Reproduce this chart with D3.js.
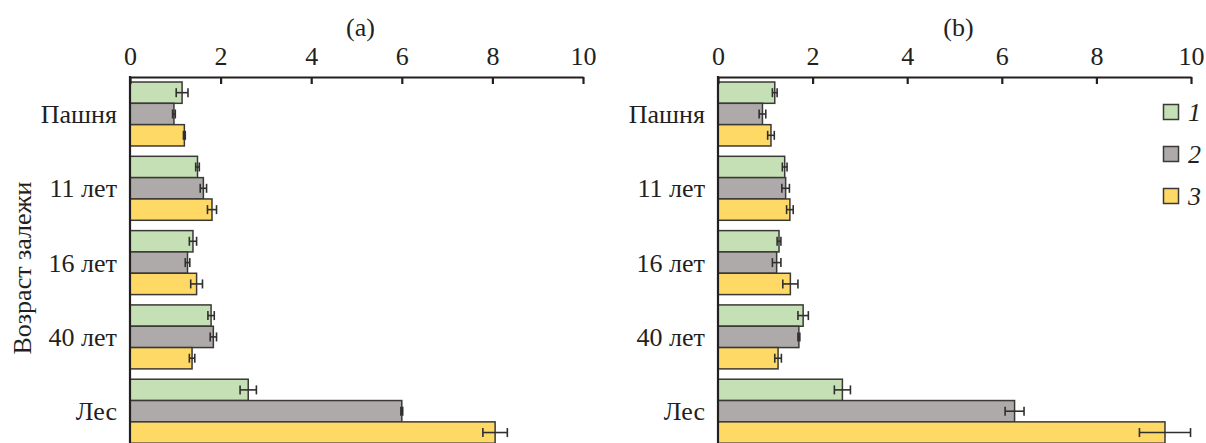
<!DOCTYPE html>
<html>
<head>
<meta charset="utf-8">
<script src="https://cdn.jsdelivr.net/npm/d3@7"></script>
<style>
  html, body { margin: 0; padding: 0; background: #fff; }
  svg { display: block; }
  text { font-family: "Liberation Serif", "DejaVu Serif", serif; fill: #231f20; }
</style>
</head>
<body>
<svg id="chart" width="1206" height="443"></svg>
<script>
// Age categories of the fallow plots (top to bottom)
const categories = ["Пашня", "11 лет", "16 лет", "40 лет", "Лес"];
const seriesLabels = ["1", "2", "3"];
const seriesColors = ["#c5e0b4", "#aeaaaa", "#ffd966"];
const xTicks = [0, 2, 4, 6, 8, 10];

// Panel (a): means per series, one array per series, ordered by category
const a1 = [1.15, 1.49, 1.39, 1.79, 2.61];
const a2 = [0.97, 1.62, 1.27, 1.84, 6.00];
const a3 = [1.20, 1.81, 1.47, 1.37, 8.06];
const a1Err = [0.13, 0.04, 0.08, 0.07, 0.18];
const a2Err = [0.03, 0.07, 0.05, 0.07, 0.02];
const a3Err = [0.02, 0.10, 0.13, 0.06, 0.27];

// Panel (b)
const b1 = [1.20, 1.41, 1.29, 1.80, 2.63];
const b2 = [0.94, 1.43, 1.24, 1.71, 6.27];
const b3 = [1.12, 1.52, 1.53, 1.27, 9.45];
const b1Err = [0.05, 0.05, 0.04, 0.11, 0.17];
const b2Err = [0.07, 0.08, 0.09, 0.02, 0.20];
const b3Err = [0.07, 0.07, 0.16, 0.07, 0.54];

const svg = d3.select("#chart");
const ink = "#231f20";
const barStroke = "#3b3838";

const axisY = 77;
const y = d3.scaleBand().domain(categories).range([82, 443.2]).paddingInner(0.139).paddingOuter(0);
const ySeries = d3.scaleBand().domain(d3.range(3)).range([0, y.bandwidth()]);

function drawPanel(opts) {
  const { x0, x1, title, series, errors, showYTitle } = opts;
  const x = d3.scaleLinear().domain([0, 10]).range([x0, x1]);
  const g = svg.append("g");

  // bars
  series.forEach((vals, s) => {
    g.append("g").selectAll("rect")
      .data(vals)
      .join("rect")
      .attr("x", x(0))
      .attr("y", (d, i) => y(categories[i]) + ySeries(s))
      .attr("width", d => x(d) - x(0))
      .attr("height", ySeries.bandwidth())
      .attr("fill", seriesColors[s])
      .attr("stroke", barStroke)
      .attr("stroke-width", 1.5);
  });

  // error bars
  series.forEach((vals, s) => {
    const eg = g.append("g").attr("stroke", "#2f2f2f").attr("stroke-width", 1.6);
    vals.forEach((v, i) => {
      const cy = y(categories[i]) + ySeries(s) + ySeries.bandwidth() / 2;
      const lo = x(v - errors[s][i]), hi = x(v + errors[s][i]);
      eg.append("line").attr("x1", lo).attr("x2", hi).attr("y1", cy).attr("y2", cy);
      eg.append("line").attr("x1", lo).attr("x2", lo).attr("y1", cy - 4.5).attr("y2", cy + 4.5);
      eg.append("line").attr("x1", hi).attr("x2", hi).attr("y1", cy - 4.5).attr("y2", cy + 4.5);
    });
  });

  // top axis with inward ticks
  const axis = d3.axisTop(x).tickValues(xTicks).tickSizeInner(-7).tickSizeOuter(0).tickPadding(12);
  const ag = g.append("g").attr("transform", `translate(0,${axisY})`).call(axis);
  ag.select(".domain").attr("stroke", ink).attr("stroke-width", 2.2);
  ag.selectAll(".tick line").attr("stroke", ink).attr("stroke-width", 2.2);
  ag.selectAll(".tick text")
    .attr("font-family", "Liberation Serif, serif")
    .attr("font-size", 26)
    .attr("fill", ink);

  // left axis line
  g.append("line")
    .attr("x1", x0).attr("x2", x0)
    .attr("y1", axisY - 1).attr("y2", 443)
    .attr("stroke", ink).attr("stroke-width", 2.2);

  // category labels
  g.append("g").selectAll("text")
    .data(categories)
    .join("text")
    .attr("x", x0 - 13)
    .attr("y", d => y(d) + y.bandwidth() / 2)
    .attr("dy", "0.35em")
    .attr("text-anchor", "end")
    .attr("font-size", 26)
    .text(d => d);

  // panel title
  g.append("text")
    .attr("x", (x0 + x1) / 2 + 4)
    .attr("y", 36)
    .attr("text-anchor", "middle")
    .attr("font-size", 26)
    .text(title);

  if (showYTitle) {
    g.append("text")
      .attr("transform", `translate(31,268) rotate(-90)`)
      .attr("text-anchor", "middle")
      .attr("font-size", 26)
      .text("Возраст залежи");
  }
}

drawPanel({
  x0: 130, x1: 583, title: "(a)",
  series: [a1, a2, a3], errors: [a1Err, a2Err, a3Err], showYTitle: true
});
drawPanel({
  x0: 718, x1: 1191, title: "(b)",
  series: [b1, b2, b3], errors: [b1Err, b2Err, b3Err], showYTitle: false
});

// legend
const legendY = d3.scalePoint().domain(seriesLabels).range([112, 196]);
const lg = svg.append("g");
lg.selectAll("rect")
  .data(seriesLabels)
  .join("rect")
  .attr("x", 1163.5)
  .attr("y", d => legendY(d) - 7.5)
  .attr("width", 15)
  .attr("height", 15)
  .attr("fill", (d, i) => seriesColors[i])
  .attr("stroke", barStroke)
  .attr("stroke-width", 1.5);
lg.selectAll("text")
  .data(seriesLabels)
  .join("text")
  .attr("x", 1188)
  .attr("y", d => legendY(d))
  .attr("dy", "0.35em")
  .attr("font-size", 26)
  .attr("font-style", "italic")
  .text(d => d);
</script>
</body>
</html>
